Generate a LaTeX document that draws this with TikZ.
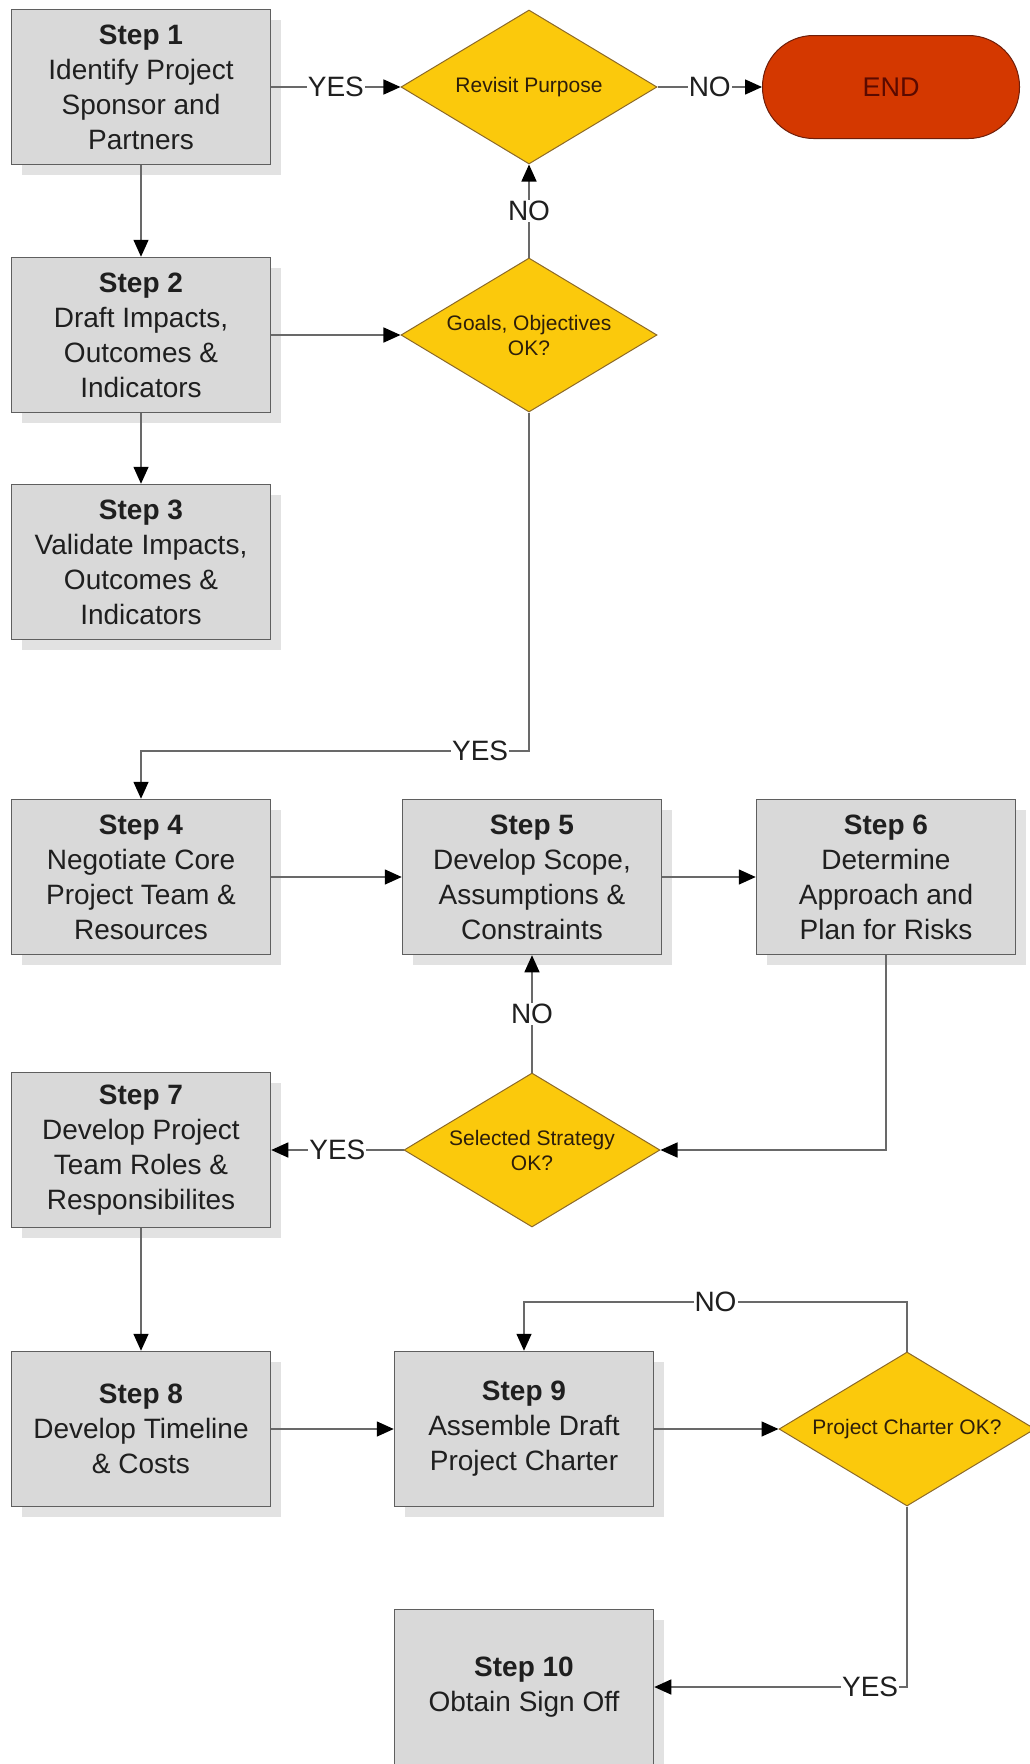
\documentclass[tikz,border=0pt]{standalone}
\usepackage{fontspec}
\setmainfont{Liberation Sans}
\usepackage{tikz}
\usetikzlibrary{shapes.geometric, arrows.meta, positioning, shadows}

\definecolor{boxgrau}{RGB}{217,217,217}
\definecolor{randgrau}{RGB}{95,95,95}
\definecolor{schatten}{RGB}{226,226,226}
\definecolor{liniengrau}{RGB}{105,105,105}
\definecolor{rautengelb}{RGB}{251,201,12}
\definecolor{rautenrand}{RGB}{140,105,40}
\definecolor{textbraun}{RGB}{45,30,10}
\definecolor{endrot}{RGB}{212,56,0}
\definecolor{endrand}{RGB}{110,30,10}
\definecolor{endtext}{RGB}{90,10,0}

\begin{document}
\begin{tikzpicture}[x=1pt, y=-1pt,
		schritt/.style={draw=randgrau, line width=1.5pt, fill=boxgrau, text=black!88,
			minimum width=259pt, minimum height=155pt, inner sep=0pt, align=center,
			font=\fontsize{28}{35}\selectfont,
			drop shadow={shadow xshift=10pt, shadow yshift=-10pt, fill=schatten, opacity=1}},
		frage/.style={diamond, shape aspect=1.66, draw=rautenrand, line width=1pt, fill=rautengelb, text=textbraun,
			minimum width=256pt, minimum height=154pt, inner sep=0pt, align=center,
			font=\fontsize{21}{25}\selectfont},
		ende/.style={rectangle, rounded corners=51pt, draw=endrand, line width=1pt, fill=endrot,
			text=endtext, minimum width=257pt, minimum height=103pt, font=\fontsize{27}{31}\selectfont},
		pfeil/.style={draw=liniengrau, line width=1.5pt, -{Triangle[length=17pt,width=15pt,color=black]}},
		beschr/.style={fill=white, inner sep=1pt, text=black!88, font=\fontsize{28}{31}\selectfont}]
	
	\useasboundingbox (0,0) rectangle (1029,1764);
	
	% Schritte
	\node[schritt] (s1) at (141,87) {\textbf{Step 1}\\Identify Project\\Sponsor and\\Partners};
	\node[schritt] (s2) at (141,335) {\textbf{Step 2}\\Draft Impacts,\\Outcomes \&\\Indicators};
	\node[schritt] (s3) at (141,562) {\textbf{Step 3}\\Validate Impacts,\\Outcomes \&\\Indicators};
	\node[schritt] (s4) at (141,877) {\textbf{Step 4}\\Negotiate Core\\Project Team \&\\Resources};
	\node[schritt] (s5) at (532,877) {\textbf{Step 5}\\Develop Scope,\\Assumptions \&\\Constraints};
	\node[schritt] (s6) at (886,877) {\textbf{Step 6}\\Determine\\Approach and\\Plan for Risks};
	\node[schritt] (s7) at (141,1150) {\textbf{Step 7}\\Develop Project\\Team Roles \&\\Responsibilites};
	\node[schritt] (s8) at (141,1429) {\textbf{Step 8}\\Develop Timeline\\\& Costs};
	\node[schritt] (s9) at (524,1429) {\textbf{Step 9}\\Assemble Draft\\Project Charter};
	\node[schritt] (s10) at (524,1687) {\textbf{Step 10}\\Obtain Sign Off};
	
	% Entscheidungen
	\node[frage] (p1) at (529,87) {Revisit Purpose};
	\node[frage] (p2) at (529,335) {Goals, Objectives\\OK?};
	\node[frage] (p3) at (532,1150) {Selected Strategy\\OK?};
	\node[frage] (p4) at (907,1429) {Project Charter OK?};
	\node[ende] (ende) at (891,87) {END};
	
	% Hilfspunkte
	\coordinate (k1) at (141,751);
	\coordinate (k2) at (524,1302);
	
	% Verbindungen
	\foreach \a/\b in {s1/s2, s2/s3, s2/p2, s4/s5, s5/s6, s7/s8, s8/s9, s9/p4} {
		\draw[pfeil] (\a) -- (\b);
	}
	\draw[pfeil] (s1) -- node[beschr] (ja1) {YES} (p1);
	\draw[pfeil] (p1) -- node[beschr] (nein1) {NO} (ende);
	\draw[pfeil] (p2) -- node[beschr] (nein2) {NO} (p1);
	\draw[pfeil] (p2.south) |- node[beschr, pos=0.563] (ja2) {YES} (k1) -- (s4.north);
	\draw[pfeil] (s6.south) |- (p3.east);
	\draw[pfeil] (p3) -- node[beschr] (nein3) {NO} (s5);
	\draw[pfeil] (p3) -- node[beschr] (ja3) {YES} (s7);
	\draw[pfeil] (p4.north) |- node[beschr, pos=0.75] (nein4) {NO} (k2) -- (s9.north);
	\draw[pfeil] (p4.south) |- node[beschr, pos=0.573] (ja4) {YES} (s10.east);
\end{tikzpicture}
\end{document}
